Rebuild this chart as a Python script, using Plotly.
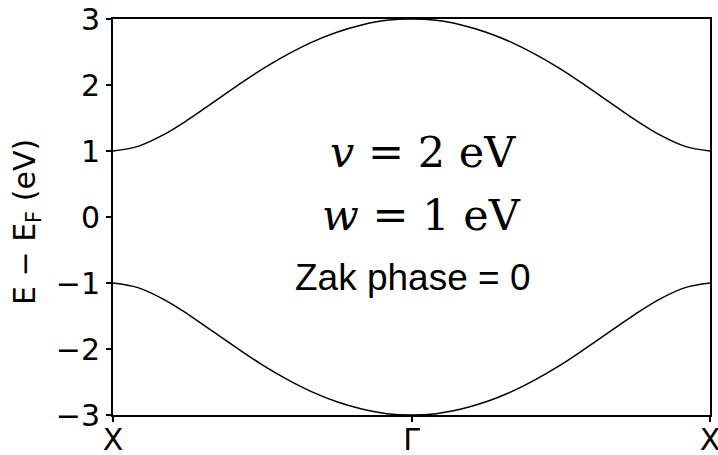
import plotly.graph_objects as go

# Crystal momentum along the path X -> Gamma -> X, in units of pi/a
k_points = [-1.0, -0.9167, -0.8333, -0.75, -0.6667, -0.5833, -0.5, -0.4167, -0.3333,
            -0.25, -0.1667, -0.0833, 0.0, 0.0833, 0.1667, 0.25, 0.3333, 0.4167,
            0.5, 0.5833, 0.6667, 0.75, 0.8333, 0.9167, 1.0]

# Conduction band energies (eV) relative to the Fermi level
upper_band = [1.00, 1.07, 1.24, 1.47, 1.73, 1.99, 2.24, 2.46, 2.65, 2.80, 2.91, 2.98, 3.00,
              2.98, 2.91, 2.80, 2.65, 2.46, 2.24, 1.99, 1.73, 1.47, 1.24, 1.07, 1.00]

# Valence band energies (eV) relative to the Fermi level
lower_band = [-1.00, -1.07, -1.24, -1.47, -1.73, -1.99, -2.24, -2.46, -2.65, -2.80, -2.91, -2.98, -3.00,
              -2.98, -2.91, -2.80, -2.65, -2.46, -2.24, -1.99, -1.73, -1.47, -1.24, -1.07, -1.00]

x_tick_vals = [-1.0, 0.0, 1.0]
x_tick_text = ["X", "Γ", "X"]
y_tick_vals = [-3, -2, -1, 0, 1, 2, 3]
y_tick_text = ["−3", "−2", "−1", "0", "1", "2", "3"]

fig = go.Figure()
for band in (upper_band, lower_band):
    fig.add_trace(go.Scatter(
        x=k_points, y=band, mode="lines",
        line=dict(color="black", width=1.5, shape="spline", smoothing=1.0),
        showlegend=False, hoverinfo="skip",
    ))

tick_font = dict(family="DejaVu Sans", size=30, color="black")

fig.update_layout(
    width=718, height=455,
    margin=dict(l=113, r=8, t=19, b=40),
    paper_bgcolor="white", plot_bgcolor="white",
    xaxis=dict(
        range=[-1, 1], tickvals=x_tick_vals, ticktext=x_tick_text,
        ticks="outside", ticklen=5, tickwidth=1.5, tickcolor="black",
        showline=True, linecolor="black", linewidth=2, mirror=True,
        showgrid=False, zeroline=False, tickfont=tick_font,
        ticklabeloverflow="allow", automargin=False, ticklabelstandoff=-8,
    ),
    yaxis=dict(
        range=[-3, 3], tickvals=y_tick_vals, ticktext=y_tick_text,
        ticks="outside", ticklen=5, tickwidth=1.5, tickcolor="black",
        showline=True, linecolor="black", linewidth=2, mirror=True,
        showgrid=False, zeroline=False, tickfont=tick_font,
        ticklabeloverflow="allow", automargin=False,
    ),
)

# Vertical axis title
fig.add_annotation(
    text="E − E<sub>F</sub> (eV)", textangle=-90,
    xref="paper", yref="paper", x=0, y=0.5, xanchor="center", yanchor="middle",
    xshift=-87, yshift=-5, showarrow=False,
    font=dict(family="DejaVu Sans", size=30, color="black"),
)

# Model parameters
serif = dict(family="DejaVu Serif", size=43, color="black")
fig.add_annotation(text="<i>v</i> = 2 eV", x=0.04, y=0.98, xref="x", yref="y",
                   showarrow=False, font=serif)
fig.add_annotation(text="<i>w</i> = 1 eV", x=0.035, y=0.03, xref="x", yref="y",
                   showarrow=False, font=serif)
fig.add_annotation(text="Zak phase = 0", x=0.005, y=-0.92, xref="x", yref="y",
                   showarrow=False,
                   font=dict(family="Liberation Sans", size=37, color="black"))

fig.write_html("out.html")
